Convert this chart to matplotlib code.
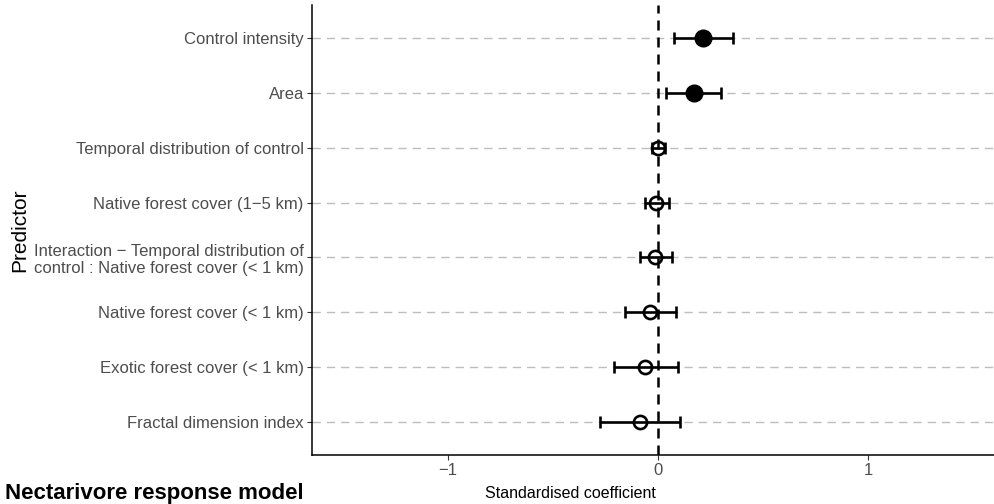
import numpy as np
import matplotlib
matplotlib.use('Agg')
import matplotlib.pyplot as plt

plt.rcParams['font.family'] = ['Liberation Sans', 'DejaVu Sans']

# predictors, bottom to top
labels = ['Fractal dimension index',
          'Exotic forest cover (< 1 km)',
          'Native forest cover (< 1 km)',
          'Interaction \u2212 Temporal distribution of\ncontrol : Native forest cover (< 1 km)',
          'Native forest cover (1\u22125 km)',
          'Temporal distribution of control',
          'Area',
          'Control intensity']
est = [-0.084, -0.060, -0.037, -0.013, -0.008, 0.002, 0.170, 0.214]
lo = [-0.275, -0.211, -0.156, -0.084, -0.064, -0.030, 0.038, 0.074]
hi = [0.103, 0.093, 0.087, 0.067, 0.050, 0.033, 0.301, 0.357]
signif = [False, False, False, False, False, False, True, True]

W, H = 994, 504
fig = plt.figure(figsize=(W/100, H/100), dpi=100)
ax = fig.add_axes([311.5/W, 1-455/H, 1-311.5/W, (455-5)/H])

y = np.arange(1, len(labels)+1)
est = np.array(est); lo = np.array(lo); hi = np.array(hi)

for yy in y:
    ax.axhline(yy, color='#bdbdbd', lw=1.0, dashes=(6, 4.3), zorder=1)
ax.axvline(0, color='black', lw=1.8, dashes=(4, 2.8), zorder=2)

ax.errorbar(est, y, xerr=[est-lo, hi-est], fmt='none', ecolor='black',
            elinewidth=1.9, capsize=4, capthick=1.9, zorder=3)
for e, yy, s in zip(est, y, signif):
    if s:
        ax.plot(e, yy, 'o', ms=12, mfc='black', mec='black', zorder=4)
    else:
        ax.plot(e, yy, 'o', ms=9.5, mfc='none', mec='black', mew=1.9, zorder=4)

ax.set_xlim(-1.65, 1.6)
ax.set_ylim(0.4, 8.6)
ax.set_xticks([-1, 0, 1])
ax.set_xticklabels(['\u22121', '0', '1'])
ax.set_yticks(y)
ax.set_yticklabels(labels)
ax.tick_params(axis='both', colors='#333333', labelcolor='#4d4d4d',
               labelsize=12, length=3.5, width=0.8, pad=2)

for side in ['top', 'right']:
    ax.spines[side].set_visible(False)
for side in ['left', 'bottom']:
    ax.spines[side].set_linewidth(1.1)
    ax.spines[side].set_color('black')

ax.set_ylabel('Predictor', fontsize=15)
ax.yaxis.set_label_coords((20-311.5)/(W-311.5), 0.5)
ax.yaxis.label.set_va('center')
ax.set_xlabel('Standardised coefficient', fontsize=11.5)
ax.xaxis.set_label_coords((570-311.5)/(W-311.5), -(493-455)/450)
ax.xaxis.label.set_va('center')

fig.text(5/W, 1-499/H, 'Nectarivore response model', fontsize=16,
         fontweight='bold', va='baseline', ha='left')

fig.savefig('out.png', dpi=100)
